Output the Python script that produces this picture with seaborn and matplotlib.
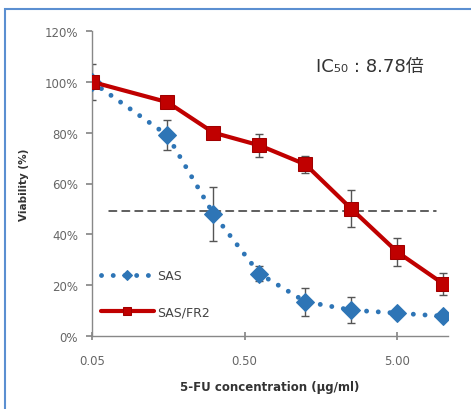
import matplotlib
matplotlib.use("Agg")
import matplotlib.pyplot as plt
import seaborn as sns
import pandas as pd
import numpy as np
from matplotlib.patches import Rectangle
from matplotlib.ticker import FixedLocator, FixedFormatter, NullLocator

sns.set_theme(style="white")
plt.rcParams['font.family'] = ['DejaVu Sans', 'Noto Sans CJK JP']

conc = [0.05, 0.156, 0.3125, 0.625, 1.25, 2.5, 5.0, 10.0]
sas = [100, 79, 48, 24.5, 13.5, 10.2, 9, 7.8]
sas_err = [0, 6, 10.5, 3, 5.5, 5, 1.5, 1]
fr2 = [100, 92, 80, 75, 67.5, 50, 33, 20.5]
fr2_err = [7, 1.5, 1.5, 4.5, 3.3, 7.3, 5.5, 4.3]
series_names = ["SAS", "SAS/FR2"]
yticks = [0, 20, 40, 60, 80, 100, 120]
xtick_vals = [0.05, 0.5, 5.0]
xtick_labels = ["0.05", "0.50", "5.00"]
ic50_line = [0.065, 8.9]
ic50_level = 49
ic50_text = "IC₅₀ : 8.78倍"

blue = "#2E75B6"
red = "#C00000"

df = pd.DataFrame({
    "conc": conc * 2,
    "viab": sas + fr2,
    "series": [series_names[0]] * len(conc) + [series_names[1]] * len(conc),
})

fig = plt.figure(figsize=(4.71, 4.10), dpi=100)
ax = fig.add_axes([0.195, 0.178, 0.756, 0.744])

# error bars
ax.errorbar(conc, sas, yerr=sas_err, fmt="none", ecolor="#555555", elinewidth=1, capsize=3, capthick=1, zorder=2)
ax.errorbar(conc, fr2, yerr=fr2_err, fmt="none", ecolor="#555555", elinewidth=1, capsize=3, capthick=1, zorder=2)

ax.plot(ic50_line, [ic50_level, ic50_level], linestyle=(0, (5, 3.5)), color="#333333", lw=1.1, zorder=1)

sns.lineplot(data=df[df.series == series_names[0]], x="conc", y="viab", ax=ax, color=blue,
             lw=3.5, linestyle=(0, (0.01, 2.4)), marker="D", markersize=9, markeredgecolor=blue,
             label=series_names[0], zorder=3)
sns.lineplot(data=df[df.series == series_names[1]], x="conc", y="viab", ax=ax, color=red,
             lw=3, marker="s", markersize=10, markeredgecolor="#A00000", label=series_names[1], zorder=4)
for l in ax.lines:
    l.set_dash_capstyle("round")

ax.set_xscale("log")
ax.set_xlim(0.05, 10.7)
ax.set_ylim(0, 120)
ax.xaxis.set_major_locator(FixedLocator(xtick_vals))
ax.xaxis.set_major_formatter(FixedFormatter(xtick_labels))
ax.xaxis.set_minor_locator(NullLocator())
ax.set_yticks(yticks)
ax.set_yticklabels([f"{v}%" for v in yticks])

for s in ["top", "right"]:
    ax.spines[s].set_visible(False)
for s in ["left", "bottom"]:
    ax.spines[s].set_color("#888888")
    ax.spines[s].set_linewidth(1)
ax.tick_params(axis="y", which="major", direction="out", length=4, color="#888888", labelsize=8.5,
               labelcolor="#666666", left=True, pad=6)
ax.tick_params(axis="x", which="major", direction="inout", length=6, color="#888888", labelsize=8.5,
               labelcolor="#666666", bottom=True, pad=10)

ax.set_xlabel("5-FU concentration (μg/ml)", fontsize=8.5, fontweight="bold", color="#333333", labelpad=9)
ax.set_ylabel("Viability (%)", fontsize=7.5, fontweight="bold", color="#333333", labelpad=11)

ax.text(0.78, 0.885, ic50_text, transform=ax.transAxes, fontsize=13,
        family=['DejaVu Sans', 'Noto Sans CJK JP'], color="#333333", ha="center", va="center")

leg = ax.legend(loc="lower left", bbox_to_anchor=(0.0, 0.03), frameon=False, fontsize=9,
                handlelength=4.3, labelspacing=1.85, handletextpad=0.2, borderaxespad=0.3,
                markerscale=0.6)
for t in leg.get_texts():
    t.set_color("#444444")

fig.patches.append(Rectangle((5 / 471, -0.01), 1.0, 1 - 10 / 410 + 0.01, transform=fig.transFigure,
                             fill=False, edgecolor="#5B8FD1", lw=1.5, zorder=0))

fig.savefig("out.png", dpi=100)
